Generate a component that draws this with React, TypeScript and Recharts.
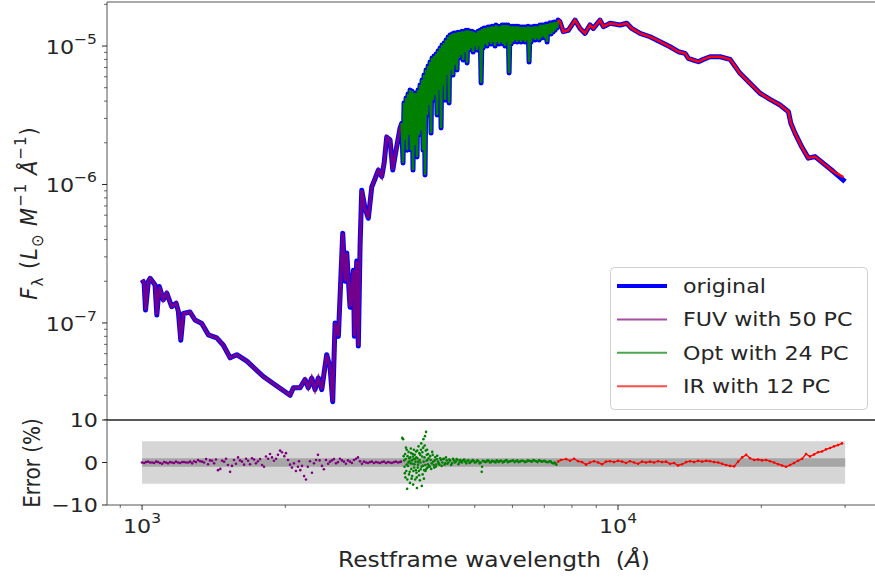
import React from 'react'
import {
  ComposedChart,
  Line,
  Scatter,
  XAxis,
  YAxis,
  ReferenceArea,
  ReferenceLine,
  Legend,
} from 'recharts'

const FONT = "'DejaVu Sans', sans-serif"
const INK = '#262626'
const SX = 1.11 // the reference text is a little wider than it is tall

// spectrum, [wavelength in Å, flux]
const fuvFlux = [
  [1000, 2.05e-7], [1010, 1.94e-7], [1017, 1.24e-7], [1031, 2.0e-7], [1040, 2.1e-7],
  [1065, 1.88e-7], [1074, 1.14e-7], [1087, 1.83e-7], [1108, 1.47e-7], [1127, 1.64e-7],
  [1154, 1.31e-7], [1179, 1.39e-7], [1192, 1.21e-7], [1206, 7.5e-8], [1221, 1.17e-7],
  [1261, 1.2e-7], [1292, 1.05e-7], [1335, 9.9e-8], [1378, 8.2e-8], [1435, 7.8e-8],
  [1482, 6.9e-8], [1531, 5.6e-8], [1581, 5.9e-8], [1660, 5.3e-8], [1798, 4.1e-8],
  [1919, 3.5e-8], [2046, 3.0e-8], [2080, 3.4e-8], [2148, 3.4e-8], [2200, 3.9e-8],
  [2235, 3.4e-8], [2272, 4.0e-8], [2309, 3.3e-8], [2346, 4.0e-8], [2385, 3.3e-8],
  [2443, 5.9e-8], [2483, 4.8e-8], [2515, 2.7e-8], [2544, 1.0e-7], [2585, 8.0e-8],
  [2640, 4.45e-7], [2670, 2.0e-7], [2692, 3.2e-7], [2735, 1.3e-7], [2780, 2.4e-7],
  [2793, 8.0e-8], [2825, 2.8e-7], [2847, 6.8e-8], [2871, 3.6e-7], [2894, 9.1e-7],
  [2941, 6.7e-7], [2988, 5.7e-7], [3038, 9.6e-7], [3087, 1.1e-6], [3136, 1.27e-6],
  [3189, 1.14e-6], [3225, 1.42e-6], [3266, 2.2e-6], [3319, 2.1e-6], [3363, 1.27e-6],
  [3400, 1.6e-6], [3483, 2.55e-6], [3512, 2.77e-6],
]

const optFlux = [
  [3512, 2.77e-6], [3534, 1.43e-6], [3551, 3.88e-6], [3568, 2.1e-6], [3586, 4.21e-6],
  [3603, 1.77e-6], [3620, 4.5e-6], [3638, 2.28e-6], [3656, 4.81e-6], [3674, 1.77e-6],
  [3691, 4.73e-6], [3709, 1.27e-6], [3727, 4.58e-6], [3746, 1.93e-6], [3764, 4.58e-6],
  [3782, 1.58e-6], [3800, 4.81e-6], [3819, 2.28e-6], [3837, 5.23e-6], [3856, 2.47e-6],
  [3875, 5.68e-6], [3893, 1.77e-6], [3912, 6.17e-6], [3931, 1.17e-6], [3950, 6.71e-6],
  [3970, 3.18e-6], [3989, 7.17e-6], [4008, 3.75e-6], [4027, 7.66e-6], [4047, 2.35e-6],
  [4067, 8.19e-6], [4086, 4.07e-6], [4106, 8.47e-6], [4126, 4.43e-6], [4146, 8.76e-6],
  [4166, 3.18e-6], [4186, 9.2e-6], [4207, 4.81e-6], [4227, 9.67e-6], [4248, 2.56e-6],
  [4268, 1.017e-5], [4289, 5.23e-6], [4310, 1.05e-5], [4331, 4.07e-6], [4352, 1.105e-5],
  [4373, 6.17e-6], [4394, 1.161e-5], [4416, 3.88e-6], [4436, 1.2e-5], [4458, 6.71e-6],
  [4480, 1.22e-5], [4501, 6.17e-6], [4523, 1.24e-5], [4545, 7.29e-6], [4567, 1.24e-5],
  [4589, 6.71e-6], [4611, 1.26e-5], [4634, 8.19e-6], [4658, 1.26e-5], [4681, 8.61e-6],
  [4703, 1.28e-5], [4726, 7.92e-6], [4749, 1.28e-5], [4772, 9.05e-6], [4795, 1.3e-5],
  [4818, 7.54e-6], [4842, 1.3e-5], [4865, 9.36e-6], [4889, 1.28e-5], [4913, 9.67e-6],
  [4937, 1.28e-5], [4960, 9.05e-6], [4985, 1.26e-5], [5009, 1.0e-5], [5033, 1.24e-5],
  [5057, 9.36e-6], [5082, 1.28e-5], [5107, 1.0e-5], [5131, 1.3e-5], [5156, 5.41e-6],
  [5181, 1.325e-5], [5206, 9.67e-6], [5231, 1.35e-5], [5257, 1.034e-5], [5282, 1.35e-5],
  [5308, 1.0e-5], [5333, 1.37e-5], [5359, 1.069e-5], [5385, 1.37e-5], [5411, 1.034e-5],
  [5437, 1.39e-5], [5464, 1.069e-5], [5490, 1.39e-5], [5517, 1.0e-5], [5544, 1.42e-5],
  [5570, 1.069e-5], [5597, 1.39e-5], [5625, 1.034e-5], [5652, 1.39e-5], [5679, 1.069e-5],
  [5707, 1.42e-5], [5734, 1.034e-5], [5762, 1.42e-5], [5790, 1.0e-5], [5818, 1.42e-5],
  [5847, 1.069e-5], [5875, 1.42e-5], [5903, 6.38e-6], [5932, 1.39e-5], [5961, 1.034e-5],
  [5990, 1.39e-5], [6019, 1.069e-5], [6048, 1.39e-5], [6077, 1.105e-5], [6107, 1.39e-5],
  [6136, 1.069e-5], [6166, 1.39e-5], [6196, 1.105e-5], [6226, 1.37e-5], [6256, 1.069e-5],
  [6287, 1.37e-5], [6317, 1.105e-5], [6348, 1.37e-5], [6378, 1.069e-5], [6409, 1.37e-5],
  [6440, 1.105e-5], [6472, 1.39e-5], [6503, 7.66e-6], [6535, 1.37e-5], [6566, 1.069e-5],
  [6598, 1.37e-5], [6630, 1.14e-5], [6662, 1.39e-5], [6695, 1.105e-5], [6727, 1.39e-5],
  [6760, 1.14e-5], [6792, 1.39e-5], [6825, 1.105e-5], [6859, 1.42e-5], [6892, 1.14e-5],
  [6925, 1.42e-5], [6959, 1.18e-5], [6993, 1.42e-5], [7026, 1.14e-5], [7060, 1.44e-5],
  [7095, 1.069e-5], [7129, 1.44e-5], [7164, 1.22e-5], [7199, 1.47e-5], [7234, 1.22e-5],
  [7269, 1.47e-5], [7304, 1.26e-5], [7340, 1.49e-5], [7375, 1.3e-5], [7411, 1.49e-5],
  [7447, 1.35e-5], [7483, 1.54e-5],
]

const irFlux = [
  [7483, 1.54e-5], [7551, 1.5e-5], [7672, 1.27e-5], [7861, 1.3e-5], [8121, 1.54e-5],
  [8320, 1.34e-5], [8523, 1.235e-5], [8732, 1.42e-5], [8873, 1.34e-5], [9166, 1.54e-5],
  [9314, 1.38e-5], [9621, 1.46e-5], [10097, 1.42e-5], [10430, 1.46e-5], [10686, 1.34e-5],
  [11122, 1.235e-5], [11674, 1.167e-5], [12254, 1.074e-5], [12862, 9.88e-6], [13390, 9.1e-6],
  [13831, 8.86e-6], [14053, 8.15e-6], [14397, 7.92e-6], [14750, 7.7e-6], [15110, 8.01e-6],
  [15608, 8.37e-6], [16381, 8.37e-6], [17193, 8.01e-6], [18045, 6.35e-6], [18939, 5.38e-6],
  [19877, 4.56e-6], [20862, 4.12e-6], [21896, 3.75e-6], [22804, 3.35e-6], [23068, 2.77e-6],
  [23551, 2.34e-6], [24318, 1.87e-6], [25107, 1.55e-6], [25935, 1.59e-6], [27000, 1.42e-6],
  [28340, 1.24e-6], [29740, 1.13e-6],
]

const originalTail = [[29990, 1.05e-6]]

// reconstruction error, [wavelength in Å, percent]
const fuvErr = [
  [1000, 0.0], [1019, 0.1], [1039, 0.0], [1060, -0.1], [1080, 0.1], [1102, -0.3],
  [1123, 0.0], [1145, 0.1], [1167, -0.1], [1190, 0.0], [1214, 0.1], [1237, 0.0],
  [1262, 0.2], [1286, 0.3], [1311, 0.6], [1337, 0.2], [1363, 0.8], [1389, 0.5],
  [1417, -0.2], [1444, -1.8], [1460, -1.5], [1472, 0.4], [1501, 0.9], [1531, -2.2],
  [1545, -0.8], [1560, 0.6], [1591, 1.2], [1622, 0.2], [1654, 0.9], [1686, -0.4],
  [1719, 0.7], [1752, 0.3], [1787, -0.6], [1821, 1.4], [1840, 0.9], [1857, 2.0],
  [1875, 1.2], [1893, 0.4], [1930, 1.8], [1950, 2.8], [1968, 2.4], [1990, 1.5],
  [2006, 2.2], [2046, -0.5], [2065, -1.2], [2085, -0.2], [2105, -2.0], [2126, -1.0],
  [2150, -1.8], [2168, -0.8], [2190, -3.2], [2210, -4.0], [2230, -1.0], [2253, 0.3],
  [2297, -0.2], [2342, 1.8], [2360, 0.5], [2388, -0.8], [2410, -1.6], [2434, 0.6],
  [2482, 0.2], [2530, 0.8], [2580, 0.1], [2630, 0.5], [2681, -0.3], [2734, 0.2],
  [2787, 0.6], [2842, 1.2], [2870, 0.3], [2897, -0.3], [2954, 0.0], [3011, 0.1],
  [3070, -0.1], [3130, 0.0], [3191, 0.1], [3253, -0.1], [3317, 0.0], [3381, 0.1],
  [3447, 0.0], [3500, 0.2],
  [1010, -0.1], [1029, 0.2], [1050, 0.0], [1070, 0.2], [1091, -0.1], [1112, 0.1],
  [1134, -0.2], [1156, 0.0], [1178, 0.2], [1202, -0.1], [1225, 0.1], [1250, 0.0],
  [1274, -0.2], [1298, 0.1], [1324, 0.3], [1350, 0.0], [1376, -0.4], [1403, 0.4],
  [1430, 0.7], [1487, 0.2], [1515, -0.6], [1575, -0.3], [1606, 0.5], [1638, -0.5],
  [1670, 0.4], [1702, 1.0], [1735, -0.2], [1770, 0.8], [1804, -1.0], [1912, 0.9],
  [2026, 0.6], [2137, 0.3], [2275, -2.4], [2320, 0.6], [2460, -0.3], [2506, 0.5],
  [2555, -0.2], [2605, 0.9], [2655, 0.2], [2707, 0.5], [2760, -0.1], [2815, 0.9],
  [2925, 0.2], [2983, -0.1], [3040, 0.2], [3100, 0.1], [3160, -0.1], [3222, 0.2],
  [3285, 0.1], [3349, -0.1], [3414, 0.2], [3480, 0.1],
]

const optErr = [
  [3520, 5.8], [3535, 5.5], [3555, 0.5], [3560, -1.0], [3570, 2.0], [3575, -3.5],
  [3580, 0.8], [3590, -2.0], [3598, 3.0], [3605, -6.2], [3612, 1.5], [3620, -0.8],
  [3630, 2.5], [3638, -2.8], [3645, 0.3], [3655, -4.8], [3660, 1.2], [3670, 3.3],
  [3678, -1.5], [3688, 0.5], [3695, -3.2], [3705, 2.0], [3712, -5.2], [3720, 0.8],
  [3730, -1.2], [3740, 1.8], [3748, -4.0], [3755, 0.2], [3765, 2.6], [3772, -2.4],
  [3780, -6.0], [3790, 1.0], [3800, -0.5], [3810, 3.8], [3820, -3.0], [3830, 0.6],
  [3840, 1.8], [3850, -1.6], [3860, 4.5], [3870, -5.5], [3880, 2.4], [3890, -0.8],
  [3900, 5.5], [3910, -3.8], [3920, 1.2], [3930, 6.2], [3940, -2.0], [3950, 7.2],
  [3960, 0.4], [3970, 3.0], [3980, -1.2], [3990, 2.0], [4010, -0.8], [4030, 1.5],
  [4050, -1.5], [4070, 2.5], [4090, 0.2], [4110, -1.2], [4130, 1.3], [4150, -0.5],
  [4170, 1.6], [4200, -0.2], [4230, 1.0], [4260, -0.8], [4290, 0.8], [4320, -0.5],
  [4350, 1.2], [4380, -0.3], [4420, 0.7], [4460, -0.6], [4500, 0.9], [4540, 0.0],
  [4580, 0.8], [4620, -0.4], [4660, 0.6], [4700, 0.0], [4750, 0.7], [4800, -0.2],
  [4850, 0.5], [4900, 0.1], [4950, 0.6], [5000, 0.0], [5060, 0.5], [5120, -0.2],
  [5171, -2.2], [5180, -1.0], [5200, 0.4], [5260, 0.1], [5320, 0.5], [5380, 0.0],
  [5440, 0.4], [5500, 0.2], [5560, 0.5], [5620, 0.1], [5690, 0.4], [5760, 0.2],
  [5830, 0.6], [5900, 0.2], [5980, 0.4], [6060, 0.1], [6140, 0.5], [6220, 0.2],
  [6300, 0.4], [6380, 0.1], [6460, 0.5], [6550, 0.3], [6640, 0.6], [6730, 0.3],
  [6820, 0.5], [6910, 0.2], [7000, 0.4], [7090, 0.1], [7180, 0.3], [7270, -0.1],
  [7360, 0.0], [7420, -0.5],
  [3545, 1.5], [3565, -2.5], [3585, 3.5], [3595, -0.5], [3608, -4.0], [3625, 0.0],
  [3642, 1.0], [3650, -2.2], [3665, -0.2], [3675, 2.2], [3683, -3.8], [3700, -0.3],
  [3708, 1.4], [3716, -2.0], [3725, 3.0], [3735, -0.4], [3744, 0.9], [3760, -1.8],
  [3768, 1.2], [3776, -3.5], [3785, 2.8], [3795, -1.2], [3805, 0.2], [3815, -2.0],
  [3825, 2.2], [3835, -4.2], [3845, 0.0], [3855, 3.0], [3865, -1.0], [3875, 1.4],
  [3885, -2.8], [3895, 3.5], [3905, 0.2], [3915, -1.8], [3925, 4.0], [3935, -0.6],
  [3945, 2.8], [3955, -1.5], [3965, 1.8], [3975, 0.6], [3985, -0.4], [4000, 1.0],
  [4020, -1.0], [4040, 0.6], [4060, -0.2], [4080, 1.8], [4100, -0.6], [4120, 0.5],
  [4140, -1.0], [4160, 0.8], [4185, 0.2], [4215, -0.5], [4245, 0.6], [4275, 0.0],
  [4305, 0.9], [4335, -0.2], [4365, 0.5], [4400, 0.0], [4440, 0.4], [4480, -0.2],
  [4520, 0.5], [4560, 0.2], [4600, 0.6], [4640, 0.0], [4680, 0.3], [4725, 0.5],
  [4775, 0.2], [4825, 0.4], [4875, -0.1], [4925, 0.3], [4975, 0.4], [5030, 0.1],
  [5090, 0.3], [5150, 0.0], [5230, 0.3], [5290, 0.2], [5350, 0.4], [5410, 0.1],
  [5470, 0.3], [5530, 0.0], [5590, 0.3], [5655, 0.4], [5725, 0.0], [5795, 0.4],
  [5865, 0.1], [5940, 0.3], [6020, 0.5], [6100, 0.3], [6180, 0.1], [6260, 0.4],
  [6340, 0.3], [6420, 0.2], [6505, 0.4], [6595, 0.2], [6685, 0.4], [6775, 0.1],
  [6865, 0.4], [6955, 0.3], [7045, 0.2], [7135, 0.1], [7225, 0.2], [7315, -0.2],
  [7390, -0.3],
]

const irErr = [
  [7480, 0.2], [7586, 0.6], [7779, 0.8], [7930, 0.4], [8084, 0.9], [8241, 0.3],
  [8402, 0.1], [8566, -0.5], [8732, 0.0], [8903, 0.3], [9078, 0.0], [9256, -0.4],
  [9436, 0.2], [9620, 0.3], [9808, 0.1], [10000, 0.4], [10195, 0.2], [10394, -0.1],
  [10597, 0.3], [10804, 0.0], [11015, -0.3], [11230, 0.2], [11450, 0.0], [11674, 0.2],
  [11902, 0.0], [12134, 0.3], [12371, 0.1], [12614, 0.2], [12862, -0.3], [13113, -0.1],
  [13366, -0.7], [13633, -0.4], [13900, 0.1], [14170, 0.3], [14447, 0.1], [14730, 0.4],
  [15017, 0.2], [15311, 0.4], [15611, 0.3], [15916, 0.1], [16227, 0.0], [16544, -0.3],
  [16867, -0.6], [17197, -0.8], [17533, -0.9], [17876, 0.2], [18226, 1.2], [18582, 1.8],
  [18939, 1.0], [19310, 0.6], [19687, 0.7], [20070, 0.5], [20460, 0.6], [20860, 0.3],
  [21270, 0.0], [21690, -0.4], [22110, -0.7], [22540, -1.0], [22980, -0.6], [23430, -0.1],
  [23890, 0.4], [24360, 0.9], [24830, 2.0], [25310, 1.4], [25810, 1.9], [26310, 2.4],
  [26830, 2.6], [27350, 3.1], [27880, 3.4], [28430, 3.8], [28980, 4.1], [29550, 4.5],
]

const wavelengthTicks = [900, 1000, 2000, 3000, 4000, 5000, 6000, 7000, 8000, 9000, 10000, 20000, 30000]
const wavelengthMajor: Record<number, string> = { 1000: '3', 10000: '4' }
const fluxTicks = [
  2e-8, 3e-8, 4e-8, 5e-8, 6e-8, 7e-8, 8e-8, 9e-8,
  1e-7, 2e-7, 3e-7, 4e-7, 5e-7, 6e-7, 7e-7, 8e-7, 9e-7,
  1e-6, 2e-6, 3e-6, 4e-6, 5e-6, 6e-6, 7e-6, 8e-6, 9e-6,
  1e-5, 2e-5,
]
const fluxMajor = [[1e-7, 7], [1e-6, 6], [1e-5, 5]]
const errTicks = [-10, 0, 10]

const series = [
  { name: 'original', color: '#0000ff', legendColor: '#0000ff', legendWidth: 4 },
  { name: 'FUV with 50 PC', color: '#800080', legendColor: '#a64ca6', legendWidth: 2 },
  { name: 'Opt with 24 PC', color: '#008000', legendColor: '#4ca64c', legendWidth: 2 },
  { name: 'IR with 12 PC', color: '#ff0000', legendColor: '#ff4c4c', legendWidth: 2 },
]

const toPts = (arr: number[][], key: string) => arr.map(([w, v]) => ({ w, [key]: v }))

const originalData = toPts([...fuvFlux, ...optFlux.slice(1), ...irFlux.slice(1, -1), ...originalTail], 'f')
const fuvData = toPts(fuvFlux, 'f')
const optData = toPts(optFlux, 'f')
const irData = toPts(irFlux, 'f')

const X_DOMAIN = [844, 34830]
const FLUX_DOMAIN = [1.99e-8, 2.08e-5]

function FluxTick({ x, y, payload }: any) {
  const major = fluxMajor.find(([m]) => Math.abs(payload.value / m - 1) < 1e-6)
  return (
    <g>
      <line x1={x - (major ? 5 : 3)} x2={x} y1={y} y2={y} stroke={INK} strokeWidth={major ? 1 : 0.7} />
      {major && (
        <text
          transform={`translate(${x - 10},${y + 8}) scale(${SX},1)`}
          textAnchor="end"
          fontFamily={FONT}
          fontSize={20}
          fill={INK}
        >
          10
          <tspan dy={-10} fontSize={14}>{`\u2212${major[1]}`}</tspan>
        </text>
      )}
    </g>
  )
}

function ErrTick({ x, y, payload }: any) {
  const v = payload.value
  return (
    <g>
      <line x1={x - 5} x2={x} y1={y} y2={y} stroke={INK} />
      <text
        transform={`translate(${x - 9},${y + 7}) scale(${SX},1)`}
        textAnchor="end"
        fontFamily={FONT}
        fontSize={20}
        fill={INK}
      >
        {v < 0 ? `\u2212${-v}` : `${v}`}
      </text>
    </g>
  )
}

function WaveTick({ x, y, payload }: any) {
  const exp = wavelengthMajor[payload.value]
  return (
    <g>
      <line x1={x} x2={x} y1={y} y2={y + (exp ? 5 : 3)} stroke={INK} strokeWidth={exp ? 1 : 0.7} />
      {exp && (
        <text
          transform={`translate(${x},${y + 28}) scale(${SX},1)`}
          textAnchor="middle"
          fontFamily={FONT}
          fontSize={20}
          fill={INK}
        >
          10
          <tspan dy={-10} fontSize={14}>{exp}</tspan>
        </text>
      )}
    </g>
  )
}

function FluxLabel() {
  return (
    <text
      transform={`translate(37,213) scale(${SX},1) rotate(-90)`}
      textAnchor="middle"
      fontFamily={FONT}
      fontSize={21}
      letterSpacing={1}
      fill={INK}
    >
      <tspan fontStyle="italic">F</tspan>
      <tspan dy={5} fontSize={15}>λ</tspan>
      <tspan dy={-5}>{'\u00a0('}</tspan>
      <tspan fontStyle="italic">L</tspan>
      <tspan dy={5} fontSize={15}>⊙</tspan>
      <tspan dy={-5} fontStyle="italic">{'\u00a0M'}</tspan>
      <tspan dy={-10} fontSize={15}>{'\u22121'}</tspan>
      <tspan dy={10} fontStyle="italic">{'\u00a0Å'}</tspan>
      <tspan dy={-10} fontSize={15}>{'\u22121'}</tspan>
      <tspan dy={10}>)</tspan>
    </text>
  )
}

// bottom chart starts at page y = 400
function ErrLabel() {
  return (
    <text
      transform={`translate(40,63) scale(${SX},1) rotate(-90)`}
      textAnchor="middle"
      fontFamily={FONT}
      fontSize={20}
      fill={INK}
    >
      Error (%)
    </text>
  )
}

function WaveLabel() {
  return (
    <text
      transform={`translate(494,167) scale(${SX},1)`}
      textAnchor="middle"
      fontFamily={FONT}
      fontSize={21}
      fill={INK}
    >
      {'Restframe wavelength\u00a0\u00a0('}
      <tspan fontStyle="italic">Å</tspan>)
    </text>
  )
}

function LegendBox() {
  return (
    <svg width={258} height={143} style={{ display: 'block' }}>
      <rect x={0.5} y={0.5} width={257} height={142} rx={4} fill="#fff" fillOpacity={0.8} stroke="#d0d0d0" />
      {series.map((s, i) => (
        <g key={s.name} transform={`translate(0,${19 + i * 33.4})`}>
          <line x1={7} x2={57} y1={0} y2={0} stroke={s.legendColor} strokeWidth={s.legendWidth} />
          <text
            transform={`translate(73,7) scale(${SX},1)`}
            fontFamily={FONT}
            fontSize={20}
            fill={INK}
          >
            {s.name}
          </text>
        </g>
      ))}
    </svg>
  )
}

const dot = (color: string) => (p: any) => <circle cx={p.cx} cy={p.cy} r={1.3} fill={color} />

export default function App() {
  return (
    <div
      style={{
        position: 'fixed',
        left: 0,
        top: 0,
        width: 875,
        height: 579,
        overflow: 'hidden',
        background: '#fff',
      }}
    >
      <div style={{ position: 'absolute', left: 0, top: 0 }}>
        <ComposedChart width={880} height={425} margin={{ top: 2, right: 4, bottom: 5, left: 0 }}>
          <XAxis hide dataKey="w" type="number" scale="log" domain={X_DOMAIN} allowDataOverflow />
          <YAxis
            type="number"
            scale="log"
            domain={FLUX_DOMAIN}
            allowDataOverflow
            ticks={fluxTicks}
            interval={0}
            width={107}
            tickSize={0}
            tickMargin={0}
            tickLine={false}
            axisLine={{ stroke: '#555', strokeWidth: 1 }}
            tick={(p: any) => <FluxTick {...p} />}
            label={<FluxLabel />}
          />
          <ReferenceLine y={FLUX_DOMAIN[1]} stroke="#555" strokeWidth={1} ifOverflow="visible" />
          <Line
            data={originalData}
            dataKey="f"
            type="linear"
            stroke={series[0].color}
            strokeWidth={5}
            strokeLinejoin="round"
            dot={false}
            activeDot={false}
            isAnimationActive={false}
          />
          <Line
            data={fuvData}
            dataKey="f"
            type="linear"
            stroke={series[1].color}
            strokeOpacity={0.9}
            strokeWidth={3}
            dot={false}
            activeDot={false}
            isAnimationActive={false}
          />
          <Line
            data={optData}
            dataKey="f"
            type="linear"
            stroke={series[2].color}
            strokeWidth={2.5}
            dot={false}
            activeDot={false}
            isAnimationActive={false}
          />
          <Line
            data={irData}
            dataKey="f"
            type="linear"
            stroke={series[3].color}
            strokeWidth={2.5}
            dot={false}
            activeDot={false}
            isAnimationActive={false}
          />
          <Legend
            layout="vertical"
            align="center"
            verticalAlign="middle"
            wrapperStyle={{ left: 610, top: 267, width: 258, height: 143 }}
            content={() => <LegendBox />}
          />
        </ComposedChart>
      </div>
      <div style={{ position: 'absolute', left: 0, top: 400 }}>
        <ComposedChart width={880} height={179} margin={{ top: 20, right: 4, bottom: 0, left: 0 }}>
          <XAxis
            dataKey="w"
            type="number"
            scale="log"
            domain={X_DOMAIN}
            allowDataOverflow
            ticks={wavelengthTicks}
            interval={0}
            height={74}
            tickSize={0}
            tickMargin={0}
            tickLine={false}
            axisLine={{ stroke: '#555', strokeWidth: 1 }}
            tick={(p: any) => <WaveTick {...p} />}
            label={<WaveLabel />}
          />
          <YAxis
            dataKey="e"
            type="number"
            domain={[-10, 10]}
            allowDataOverflow
            ticks={errTicks}
            interval={0}
            width={107}
            tickSize={0}
            tickMargin={0}
            tickLine={false}
            axisLine={{ stroke: '#555', strokeWidth: 1 }}
            tick={(p: any) => <ErrTick {...p} />}
            label={<ErrLabel />}
          />
          <ReferenceArea x1={1000} x2={30000} y1={-5} y2={5} fill="#d6d6d6" fillOpacity={1} stroke="none" />
          <ReferenceArea x1={1000} x2={30000} y1={-1} y2={1} fill="#a6a6a6" fillOpacity={1} stroke="none" />
          <ReferenceLine y={10} stroke="#222" strokeWidth={1.3} ifOverflow="visible" />
          <Scatter data={toPts(fuvErr, 'e')} shape={dot('#800080')} isAnimationActive={false} />
          <Scatter data={toPts(optErr, 'e')} shape={dot('#008000')} isAnimationActive={false} />
          <Scatter
            data={toPts(irErr, 'e')}
            shape={dot('#ff0000')}
            line={{ stroke: '#ff0000', strokeWidth: 1.3 }}
            lineType="joint"
            isAnimationActive={false}
          />
        </ComposedChart>
      </div>
    </div>
  )
}
